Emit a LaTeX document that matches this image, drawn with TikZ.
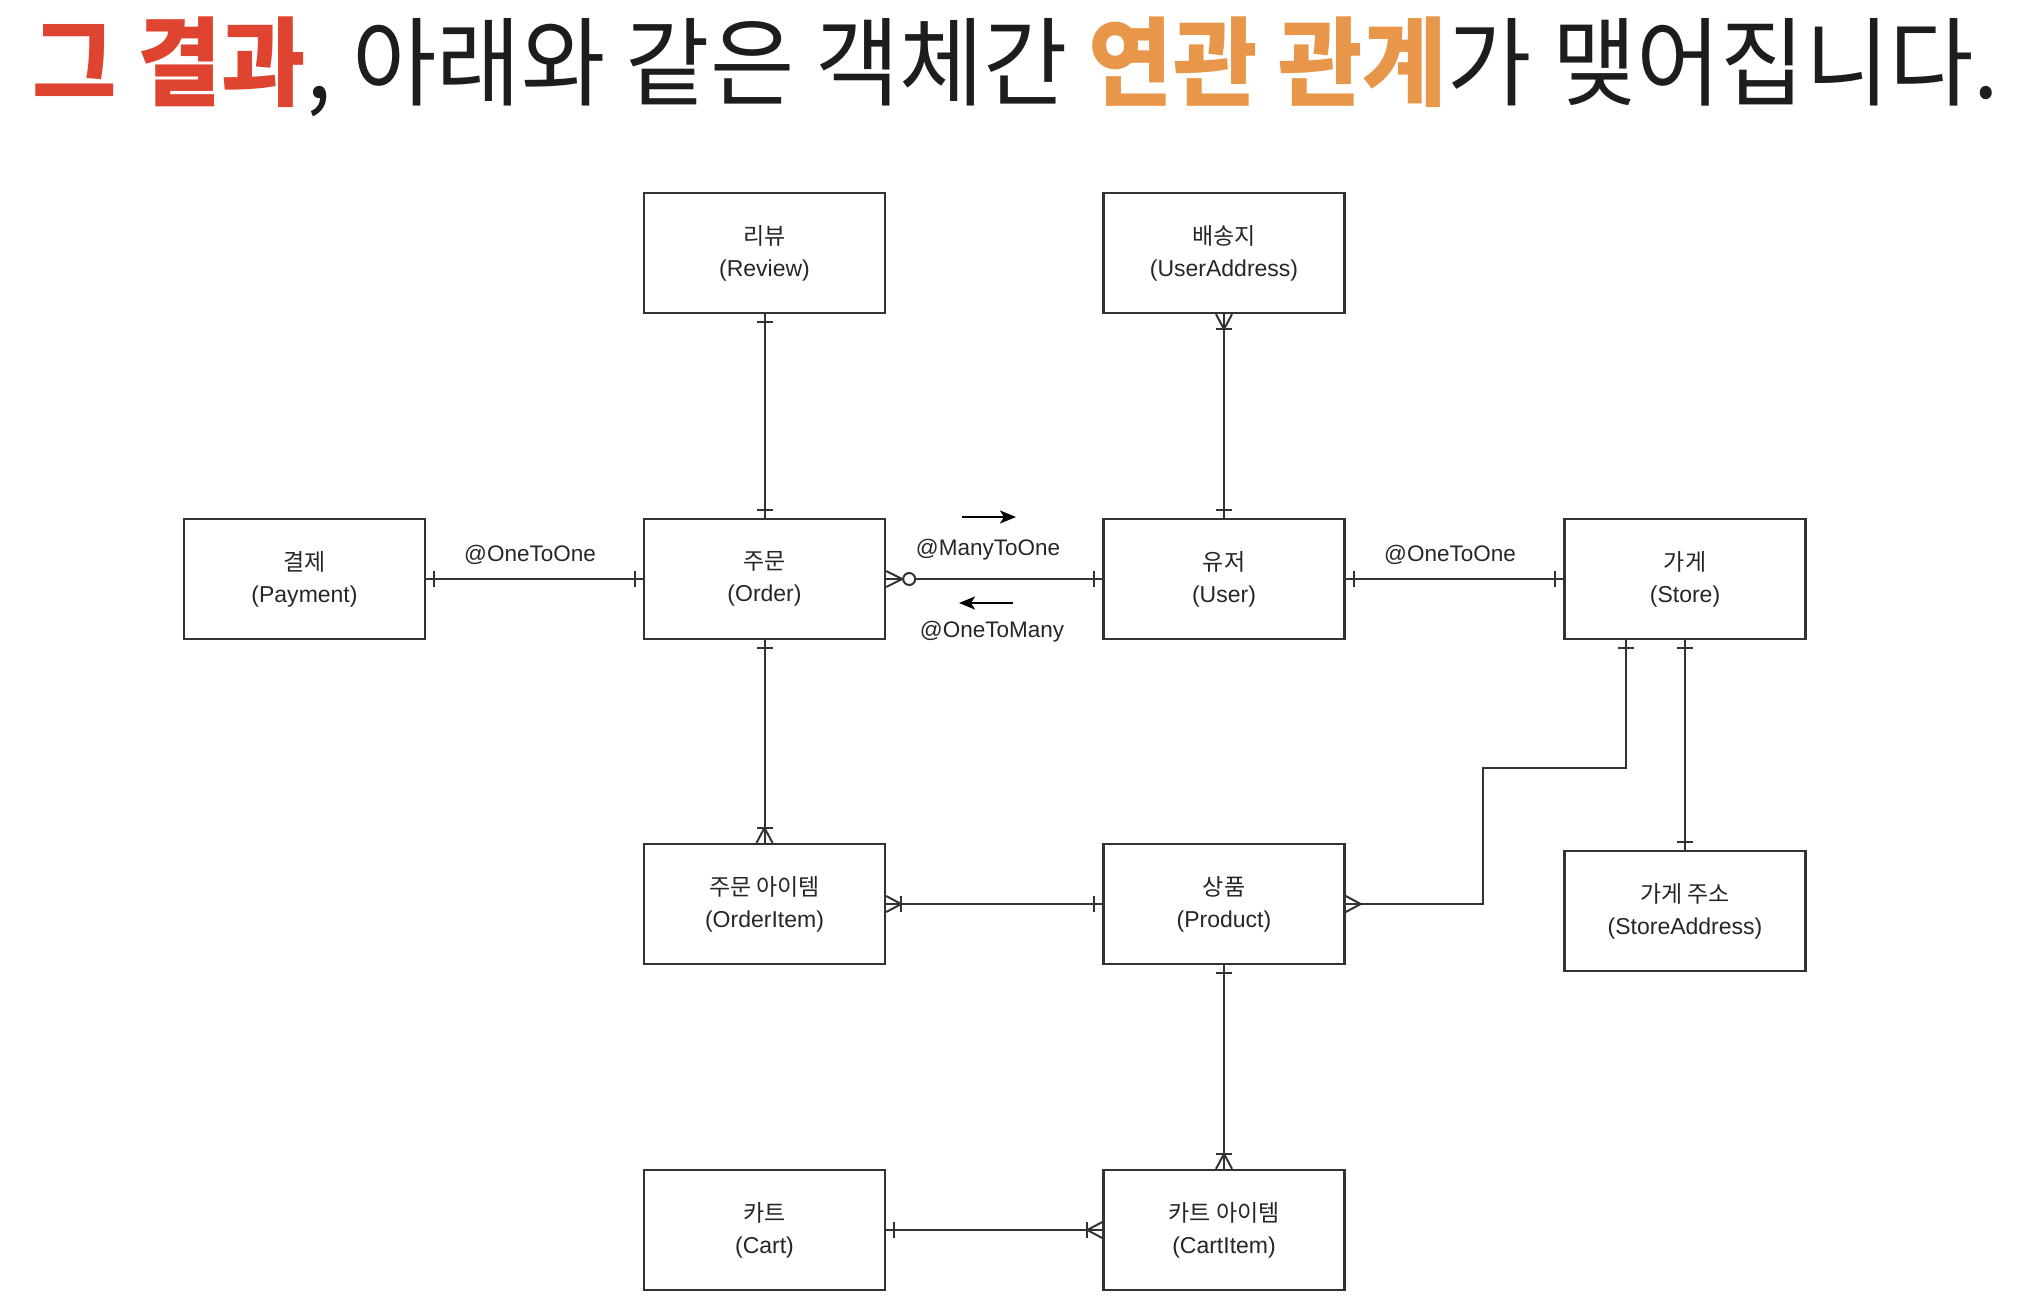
\documentclass[tikz,border=0pt]{standalone}
\usepackage{fontspec}
\setmainfont{Liberation Sans}
\newfontfamily\kr{Noto Sans CJK KR}
\usetikzlibrary{arrows.meta,decorations.markings,calc}
\definecolor{ink}{HTML}{333333}
\definecolor{titlered}{HTML}{DE4430}
\definecolor{titleorange}{HTML}{E8974A}
\definecolor{titleblack}{HTML}{1D1D1F}
\tikzset{
  entity/.style={draw=ink, line width=2.4pt, minimum width=241pt, minimum height=120pt,
    align=center, inner sep=0pt, font=\fontsize{23}{32}\selectfont, text=black!85},
  conn/.style={draw=ink, line width=2pt},
  lbl/.style={font=\fontsize{22.5}{26}\selectfont, text=black!85, inner sep=0pt},
  barstart/.style={postaction={decorate,decoration={markings,
      mark=at position 8pt with {\draw[conn] (0,-8pt) -- (0,8pt);}}}},
  barend/.style={postaction={decorate,decoration={markings,
      mark=at position -8pt with {\draw[conn] (0,-8pt) -- (0,8pt);}}}},
  crowbarend/.style={postaction={decorate,decoration={markings,
      mark=at position -15pt with {\draw[conn] (0,-8pt) -- (0,8pt);
        \draw[conn] (0,0) -- (15pt,8pt) (0,0) -- (15pt,-8pt);}}}},
  crowend/.style={postaction={decorate,decoration={markings,
      mark=at position -15pt with {\draw[conn] (0,0) -- (15pt,8pt) (0,0) -- (15pt,-8pt);}}}},
  zerocrowend/.style={postaction={decorate,decoration={markings,
      mark=at position -16pt with {\draw[conn] (0,0) -- (16pt,8pt) (0,0) -- (16pt,-8pt);},
      mark=at position -23pt with {\draw[conn, fill=white] (0,0) circle (6pt);}}}},
  dirarrow/.style={draw=black, line width=2pt, -{Stealth[length=16pt,width=13pt,inset=4pt]}}
}
\begin{document}
\begin{tikzpicture}[x=1pt,y=-1pt]
\useasboundingbox[fill=white] (0,0) rectangle (2020,1310);

% title
\node[anchor=base west, inner sep=0pt, text=titleblack] (title) at (32,98)
  {\scalebox{1.042}[1.1]{\kr\fontsize{88}{92}\selectfont
   {\bfseries\color{titlered}그 결과}, 아래와 같은 객체간 {\bfseries\color{titleorange}연관 관계}가 맺어집니다.}};

% entities
\node[entity] (review)  at (764.5,253) {{\kr 리뷰}\\(Review)};
\node[entity] (uaddr)   at (1224,253)  {{\kr 배송지}\\(UserAddress)};
\node[entity] (payment) at (304.5,579) {{\kr 결제}\\(Payment)};
\node[entity] (order)   at (764.5,579) {{\kr 주문}\\(Order)};
\node[entity] (user)    at (1224,579)  {{\kr 유저}\\(User)};
\node[entity] (store)   at (1685,579)  {{\kr 가게}\\(Store)};
\node[entity] (oitem)   at (764.5,904) {{\kr 주문 아이템}\\(OrderItem)};
\node[entity] (product) at (1224,904)  {{\kr 상품}\\(Product)};
\node[entity] (saddr)   at (1685,911)  {{\kr 가게 주소}\\(StoreAddress)};
\node[entity] (cart)    at (764.5,1230) {{\kr 카트}\\(Cart)};
\node[entity] (citem)   at (1224,1230) {{\kr 카트 아이템}\\(CartItem)};

% connectors
\draw[conn, barstart, barend] (order.north) -- (review.south);
\draw[conn, barstart, crowbarend] (user.north) -- (uaddr.south);
\draw[conn, barstart, barend] (payment.east) -- (order.west);
\draw[conn, barstart, zerocrowend] (user.west) -- (order.east);
\draw[conn, barstart, barend] (user.east) -- (store.west);
\draw[conn, barstart, crowbarend] (order.south) -- (oitem.north);
\draw[conn, barstart, crowbarend] (product.west) -- (oitem.east);
\coordinate (sp) at ([xshift=-59pt]store.south);
\coordinate (jog) at (1483,768);
\draw[conn, barstart, crowend] (sp) |- (jog) |- (product.east);
\draw[conn, barstart, barend] (store.south) -- (saddr.north);
\draw[conn, barstart, crowbarend] (product.south) -- (citem.north);
\draw[conn, barstart, crowbarend] (cart.east) -- (citem.west);

% labels
\node[lbl] (l1) at (530,555) {@OneToOne};
\node[lbl] (l2) at (1450,555) {@OneToOne};
\node[lbl] (l3) at (988,550) {@ManyToOne};
\node[lbl] (l4) at (992,632) {@OneToMany};
\coordinate (a1s) at (962,517);
\coordinate (a1e) at (1016,517);
\coordinate (a2s) at (1013,603);
\coordinate (a2e) at (959,603);
\draw[dirarrow] (a1s) -- (a1e);
\draw[dirarrow] (a2s) -- (a2e);
\end{tikzpicture}
\end{document}
